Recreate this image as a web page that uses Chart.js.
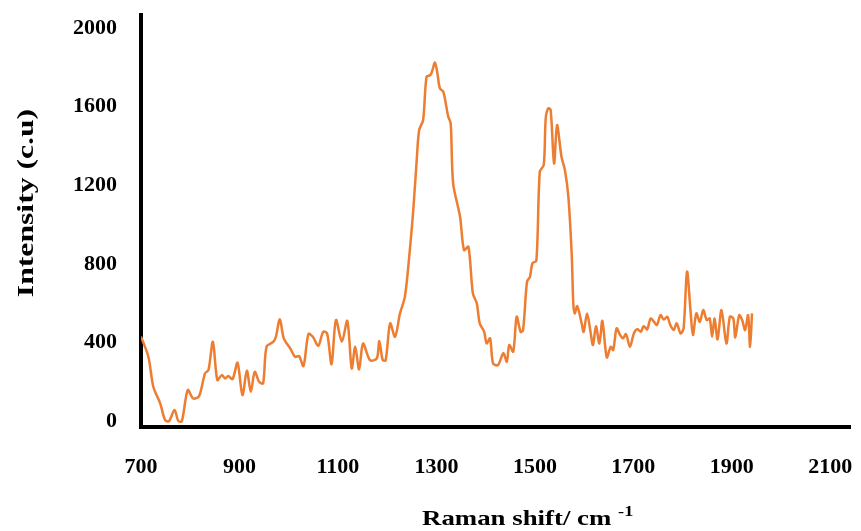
<!DOCTYPE html>
<html>
<head>
<meta charset="utf-8">
<script src="https://cdn.jsdelivr.net/npm/chart.js@4"></script>
<style>
  html, body { margin: 0; padding: 0; background: #fff; }
</style>
</head>
<body>
<canvas id="raman" width="861" height="531"></canvas>
<script>
// Raman spectrum
const ramanShift = [700, 715, 725, 739, 749, 757, 768, 776, 783, 795, 806, 818, 830, 837, 846, 855, 864, 871, 877, 886,
  896, 906, 915, 923, 931, 940, 948, 955, 969, 974, 982, 990, 1003, 1013, 1021, 1030, 1040, 1049, 1060, 1070,
  1078, 1087, 1096, 1108, 1119, 1128, 1135, 1143, 1151, 1165, 1179, 1184, 1191, 1197, 1206, 1216, 1226, 1236, 1246, 1253,
  1260, 1265, 1273, 1280, 1288, 1292, 1297, 1302, 1307, 1314, 1324, 1329, 1334, 1348, 1356, 1365, 1374, 1382, 1388, 1397,
  1402, 1409, 1415, 1425, 1436, 1443, 1448, 1456, 1463, 1471, 1476, 1484, 1490, 1495, 1503, 1510, 1518, 1522, 1527, 1532,
  1539, 1545, 1554, 1561, 1568, 1575, 1578, 1581, 1586, 1595, 1599, 1606, 1613, 1618, 1624, 1631, 1637, 1646, 1654, 1659,
  1666, 1673, 1679, 1685, 1693, 1701, 1708, 1715, 1721, 1728, 1735, 1742, 1748, 1755, 1762, 1769, 1775, 1782, 1788, 1796,
  1802, 1809, 1816, 1821, 1828, 1835, 1842, 1849, 1855, 1860, 1865, 1871, 1879, 1889, 1896, 1903, 1907, 1915, 1921, 1927,
  1933, 1937, 1941];
const intensity = [430, 327, 175, 90, 5, 0, 56, 0, 0, 158, 115, 127, 243, 260, 404, 209, 234, 217, 229, 214,
  297, 132, 256, 149, 251, 200, 192, 378, 404, 429, 518, 421, 370, 327, 331, 280, 443, 429, 383, 454,
  446, 290, 514, 404, 510, 268, 378, 263, 395, 310, 319, 407, 310, 310, 497, 429, 548, 633, 870, 1074,
  1328, 1481, 1532, 1752, 1761, 1786, 1824, 1769, 1693, 1676, 1549, 1515, 1210, 1040, 870, 887, 650, 599, 497, 454,
  395, 421, 294, 285, 345, 302, 387, 353, 531, 454, 463, 709, 734, 803, 816, 1269, 1303, 1540, 1591, 1583,
  1311, 1506, 1345, 1277, 1141, 836, 599, 548, 585, 497, 454, 548, 454, 387, 483, 395, 510, 324, 378, 361,
  472, 438, 421, 443, 378, 446, 468, 454, 483, 467, 522, 505, 489, 539, 517, 531, 489, 463, 497, 446,
  472, 760, 565, 438, 548, 505, 565, 514, 522, 429, 522, 416, 565, 395, 531, 522, 426, 539, 514, 463,
  539, 378, 548];

const xTicks = [700, 900, 1100, 1300, 1500, 1700, 1900, 2100];
const yTicks = [0, 400, 800, 1200, 1600, 2000];

const serif = '"Liberation Serif", "Times New Roman", serif';

// axis titles drawn by hand so the superscript can sit above the baseline
const axisTitles = {
  id: 'axisTitles',
  afterDraw(chart) {
    const ctx = chart.ctx;
    ctx.save();
    ctx.fillStyle = '#000';
    ctx.textBaseline = 'alphabetic';
    ctx.textAlign = 'left';
    ctx.translate(422, 525);
    ctx.scale(1.22, 1);
    ctx.font = 'bold 22px ' + serif;
    const main = 'Raman shift/ cm ';
    ctx.fillText(main, 0, 0);
    const w = ctx.measureText(main).width;
    ctx.font = 'bold 15px ' + serif;
    ctx.fillText('-1', w, -9);
    ctx.restore();

    ctx.save();
    ctx.fillStyle = '#000';
    ctx.translate(27, 203);
    ctx.rotate(-Math.PI / 2);
    ctx.scale(1.32, 1);
    ctx.textAlign = 'center';
    ctx.textBaseline = 'middle';
    ctx.font = 'bold 24px ' + serif;
    ctx.fillText('Intensity (c.u)', 0, 0);
    ctx.restore();
  }
};

new Chart(document.getElementById('raman'), {
  type: 'scatter',
  data: {
    datasets: [{
      data: ramanShift.map((x, i) => ({ x: x, y: intensity[i] })),
      showLine: true,
      borderColor: 'rgb(237, 125, 49)',
      borderWidth: 2.5,
      pointRadius: 0,
      tension: 0.3,
      fill: false
    }]
  },
  options: {
    responsive: false,
    animation: false,
    devicePixelRatio: 1,
    layout: { padding: { left: 0, right: 11, top: 15, bottom: 0 } },
    plugins: {
      legend: { display: false },
      tooltip: { enabled: false }
    },
    scales: {
      x: {
        type: 'linear',
        min: 700,
        max: 2140,
        afterBuildTicks: s => { s.ticks = xTicks.map(v => ({ value: v })); },
        afterFit: s => { s.height = 104; s.paddingLeft = 0; s.paddingRight = 0; },
        grid: { display: false, drawTicks: false },
        border: { display: true, color: '#000', width: 4 },
        ticks: {
          color: '#000', padding: 27, maxRotation: 0,
          font: { family: serif, size: 22, weight: 'bold' },
          callback: v => String(v)
        }
      },
      y: {
        type: 'linear',
        min: -30,
        max: 2066,
        afterBuildTicks: s => { s.ticks = yTicks.map(v => ({ value: v })); },
        afterFit: s => { s.width = 141; s.paddingTop = 0; s.paddingBottom = 0; },
        grid: { display: false, drawTicks: false },
        border: { display: true, color: '#000', width: 4 },
        ticks: {
          color: '#000', padding: 24,
          font: { family: serif, size: 22, weight: 'bold' },
          callback: v => String(v)
        }
      }
    }
  },
  plugins: [axisTitles]
});
</script>
</body>
</html>
